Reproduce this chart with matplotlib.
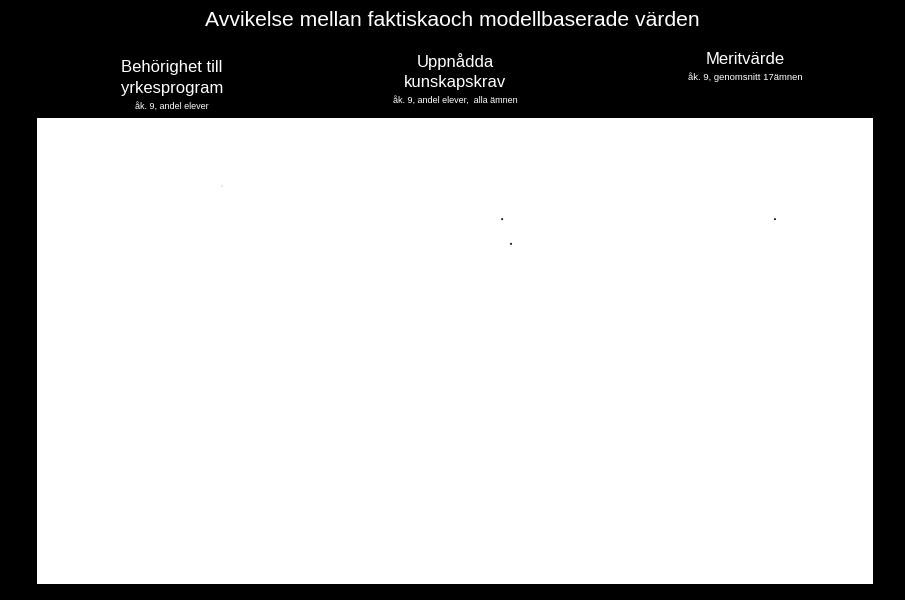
import matplotlib.pyplot as plt

plt.rcParams['font.family'] = ['Liberation Sans', 'DejaVu Sans']

# Rubriker för de tre måtten
rubriker = ["Behörighet till\nyrkesprogram", "Uppnådda\nkunskapskrav", "Meritvärde"]
underrubriker = ["åk. 9, andel elever", "åk. 9, andel elever,  alla ämnen", "åk. 9, genomsnitt 17ämnen"]

# Punkter (grupp + position inom gruppen, avvikelse-värde)
grupp = [0, 1, 1, 2]
pos_i_grupp = [0.664, 0.669, 0.701, 0.648]
varde = [0.854, 0.783, 0.730, 0.783]
farg = ["#dddddd", "black", "black", "black"]

fig = plt.figure(figsize=(9.05, 6), dpi=100, facecolor="black")
ax = fig.add_axes([0.0409, 0.0267, 0.9238, 0.7766])
ax.set_facecolor("white")
ax.set_xlim(0, 3)
ax.set_ylim(0, 1)
ax.set_xticks([])
ax.set_yticks([])
for s in ax.spines.values():
    s.set_visible(False)

x = [g + p for g, p in zip(grupp, pos_i_grupp)]
ax.scatter(x, varde, s=2, c=farg, linewidths=0)

fig.text(0.50, 0.965, "Avvikelse mellan faktiskaoch modellbaserade värden",
         color="white", fontsize=15.2, ha="center", va="center")

# rubrikerna ovanför panelen
fig.text(0.190, 0.870, rubriker[0], color="white", fontsize=12, ha="center",
         va="center", linespacing=1.45)
fig.text(0.190, 0.823, underrubriker[0], color="white", fontsize=6.5, ha="center", va="center")

fig.text(0.503, 0.881, rubriker[1], color="white", fontsize=12, ha="center",
         va="center", linespacing=1.45)
fig.text(0.503, 0.832, underrubriker[1], color="white", fontsize=6.5, ha="center", va="center")

fig.text(0.823, 0.900, rubriker[2], color="white", fontsize=12, ha="center", va="center")
fig.text(0.823, 0.872, underrubriker[2], color="white", fontsize=6.8, ha="center", va="center")

fig.savefig("out.png", dpi=100, facecolor="black")
